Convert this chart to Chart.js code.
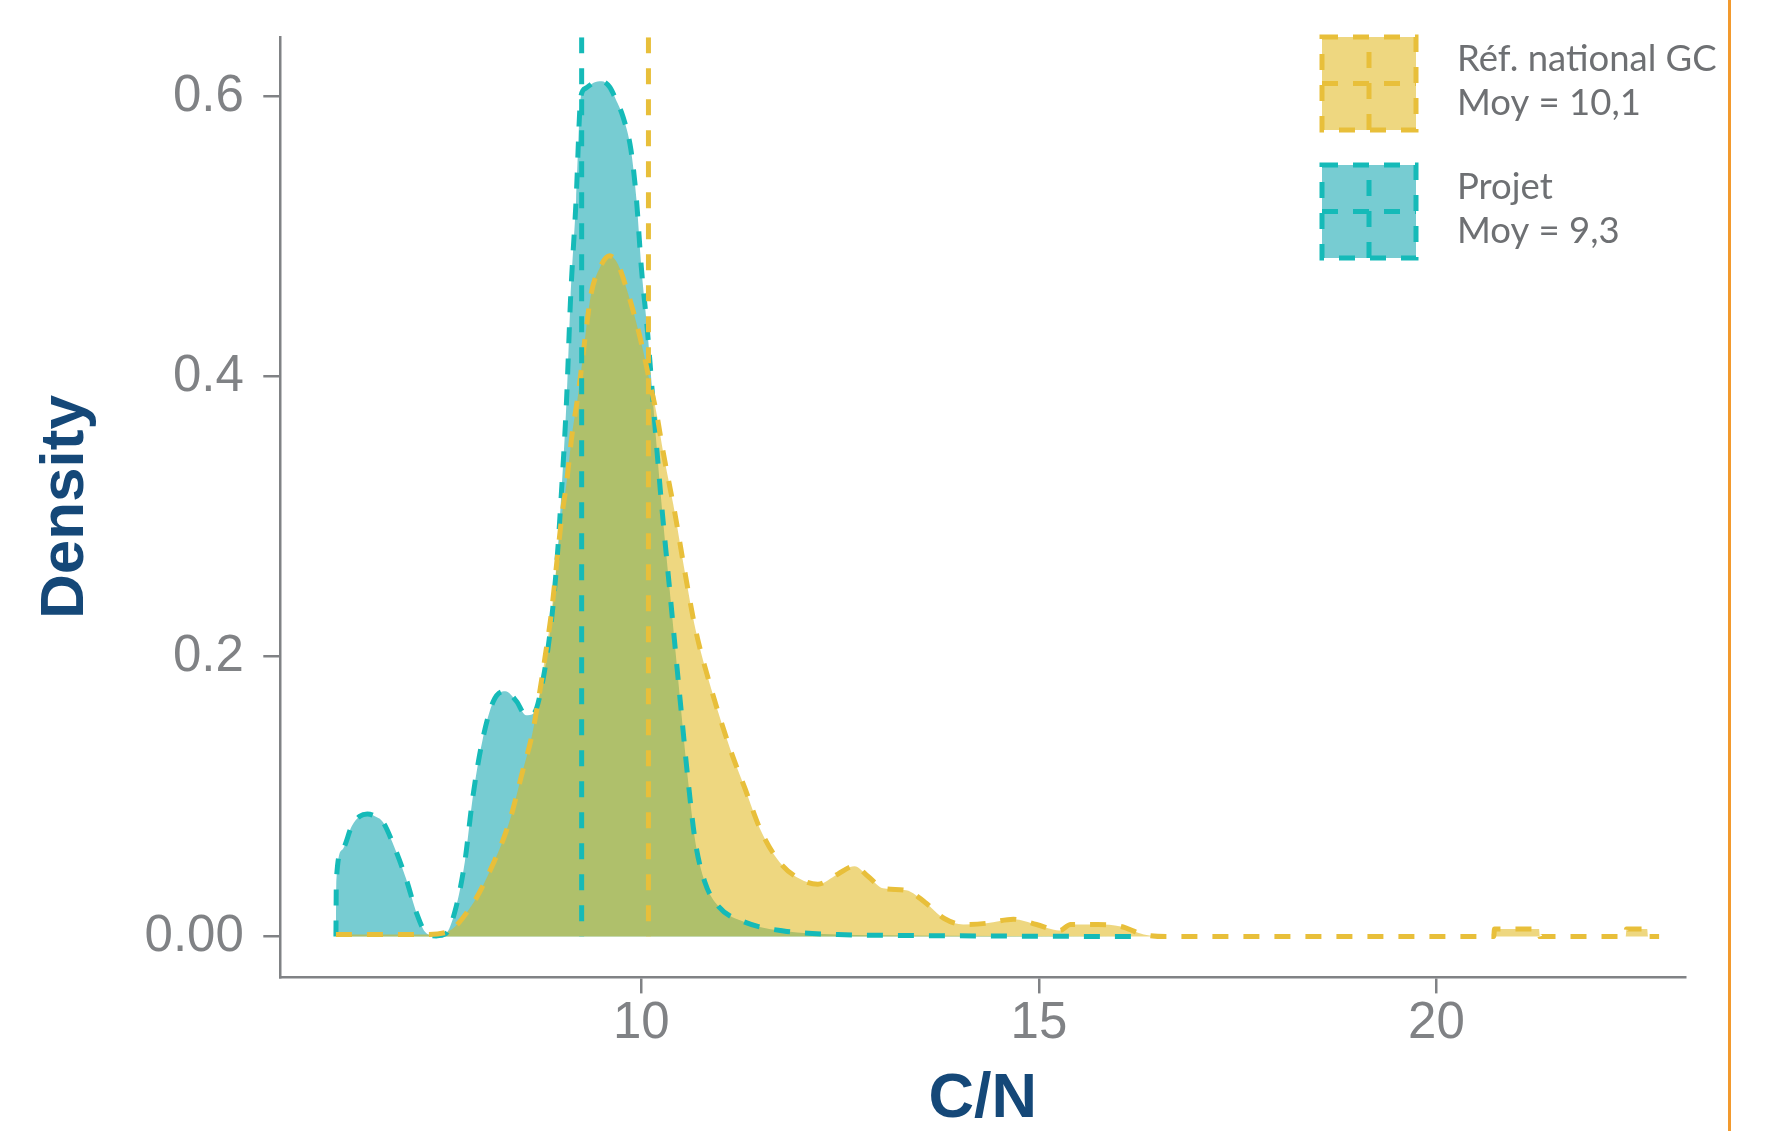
<!DOCTYPE html>
<html><head><meta charset="utf-8">
<script src="https://cdn.jsdelivr.net/npm/chart.js@4.4.1/dist/chart.umd.min.js"></script>
<style>
html,body{margin:0;padding:0;background:#fff;}
#wrap{position:relative;width:1766px;height:1131px;overflow:hidden;background:#fff;}
#c{position:absolute;left:0;top:0;}
#edge{position:absolute;left:1728px;top:0;width:3px;height:1131px;background:#F29A2E;}
</style></head><body>
<div id="wrap"><canvas id="c" width="1766" height="1131"></canvas><div id="edge"></div></div>
<script>
// ---- Data ----
const projetX = [6.160,6.165,6.24,6.36,6.46,6.555,6.65,6.75,6.89,7.04,7.18,7.28,7.42,7.54,7.66,7.78,7.88,8.00,8.14,8.29,8.43,8.55,8.65,8.77,8.87,8.94,8.99,9.06,9.11,9.18,9.24,9.30,9.40,9.50,9.60,9.68,9.77,9.87,9.94,10.00,10.08,10.13,10.18,10.25,10.37,10.49,10.59,10.68,10.80,10.97,11.31,11.79,12.47,13.33,14.50,16.22];
const projetY = [0.000,0.040,0.062,0.079,0.086,0.0876,0.086,0.0819,0.0646,0.0416,0.0158,0.0035,0.0005,0.0020,0.0187,0.0531,0.0991,0.1394,0.1681,0.1753,0.1681,0.1581,0.1596,0.1854,0.2257,0.2687,0.3120,0.3830,0.4550,0.5260,0.6000,0.6060,0.6100,0.6110,0.6070,0.5980,0.5856,0.5619,0.5260,0.4785,0.4310,0.3950,0.3590,0.3120,0.2400,0.1681,0.1106,0.0675,0.0388,0.0216,0.0101,0.0040,0.0015,0.0008,0.0004,0.0000];
const refX = [6.16,7.23,7.54,7.86,8.10,8.34,8.50,8.63,8.72,8.79,8.87,8.94,9.00,9.06,9.13,9.20,9.25,9.30,9.37,9.48,9.60,9.70,9.82,9.94,10.03,10.11,10.20,10.27,10.35,10.42,10.54,10.68,10.88,11.12,11.31,11.50,11.74,11.98,12.22,12.47,12.68,12.85,13.04,13.33,13.57,13.81,14.05,14.34,14.68,14.97,15.26,15.40,15.74,16.03,16.32,16.60,20.72,20.73,21.29,21.30,22.38,22.39,22.65,22.66,22.80];
const refY = [0.0014,0.0014,0.0029,0.0216,0.0474,0.0819,0.1164,0.1451,0.1739,0.1998,0.2314,0.2687,0.3000,0.3240,0.3590,0.3850,0.4070,0.4310,0.4595,0.4780,0.4864,0.4810,0.4619,0.4380,0.4167,0.3952,0.3714,0.3476,0.3238,0.3032,0.2630,0.2199,0.1768,0.1336,0.1049,0.0761,0.0531,0.0416,0.0374,0.0446,0.0503,0.0431,0.0345,0.0331,0.0244,0.0129,0.0086,0.0095,0.0124,0.0086,0.0043,0.0086,0.0086,0.0072,0.0014,0.0000,0.0000,0.0055,0.0055,0.0000,0.0000,0.0055,0.0055,0.0000,0.0000];
const seriesNames = ['Réf. national GC','Projet'];
const meanLabels = ['Moy = 10,1','Moy = 9,3'];
const meanValues = [10.09, 9.25];
const xTicks = [10, 15, 20];
const xTickLabels = ['10','15','20'];
const yTicks = [0, 0.2, 0.4, 0.6];
const yTickLabels = ['0.00','0.2','0.4','0.6'];
const xRange = [5.454, 23.133];
const yRange = [-0.0288, 0.6424];
const yLineTop = 0.6424;

// ---- Styles ----
const REF_LINE = '#E8BF3A', REF_FILL = 'rgba(224,181,20,0.54)';
const PRJ_LINE = '#15BAB8', PRJ_FILL = '#77CCD2';
const AXIS = '#808285', TITLE = '#154878';
const DASH = [16, 15];
const TICK_FONT = {family: '"Liberation Sans", Arial, sans-serif', size: 51};

const pts = (xs, ys) => xs.map((x, i) => ({x, y: ys[i]}));
const vline = (m) => [{x: m, y: yLineTop}, {x: m, y: 0}];

const legendPlugin = {
  id: 'densLegend',
  afterDraw(chart) {
    const ctx = chart.ctx;
    const items = [
      {fill: REF_FILL, line: REF_LINE, top: 37, idx: 0},
      {fill: PRJ_FILL, line: PRJ_LINE, top: 165, idx: 1}
    ];
    const kx = 1322, kw = 94, kh = 93;
    ctx.save();
    items.forEach(it => {
      ctx.fillStyle = '#ffffff';
      ctx.fillRect(kx, it.top, kw, kh);
      ctx.fillStyle = it.fill;
      ctx.fillRect(kx, it.top, kw, kh);
      ctx.strokeStyle = it.line;
      ctx.lineWidth = 5;
      ctx.setLineDash(DASH);
      ctx.strokeRect(kx, it.top, kw, kh);
      ctx.beginPath();
      ctx.moveTo(kx + kw / 2, it.top + kh);
      ctx.lineTo(kx + kw / 2, it.top);
      ctx.moveTo(kx, it.top + kh / 2);
      ctx.lineTo(kx + kw, it.top + kh / 2);
      ctx.stroke();
      ctx.setLineDash([]);
      ctx.fillStyle = '#6E7073';
      ctx.font = '36.5px Lato, "Open Sans", sans-serif';
      ctx.textAlign = 'left';
      ctx.textBaseline = 'alphabetic';
      ctx.fillText(seriesNames[it.idx], 1457, it.top + 34);
      ctx.fillText(meanLabels[it.idx], 1457, it.top + 78);
    });
    ctx.restore();
  }
};

new Chart(document.getElementById('c'), {
  type: 'line',
  data: {
    datasets: [
      {label: 'moy ref', data: vline(meanValues[0]), borderColor: REF_LINE, borderWidth: 5, borderDash: DASH, pointRadius: 0, fill: false},
      {label: 'moy projet', data: vline(meanValues[1]), borderColor: PRJ_LINE, borderWidth: 5, borderDash: DASH, pointRadius: 0, fill: false},
      {label: seriesNames[0], data: pts(refX, refY), borderColor: REF_LINE, backgroundColor: REF_FILL, borderWidth: 5, borderDash: DASH, pointRadius: 0, fill: 'origin', cubicInterpolationMode: 'monotone'},
      {label: seriesNames[1], data: pts(projetX, projetY), borderColor: PRJ_LINE, backgroundColor: PRJ_FILL, borderWidth: 5, borderDash: DASH, pointRadius: 0, fill: 'origin', cubicInterpolationMode: 'monotone'}
    ]
  },
  options: {
    responsive: false,
    devicePixelRatio: 1,
    animation: false,
    layout: {padding: {left: 0, top: 37.3, right: 80.4, bottom: 0}},
    plugins: {
      legend: {display: false},
      tooltip: {enabled: false},
      filler: {drawTime: 'beforeDatasetsDraw'}
    },
    scales: {
      x: {
        type: 'linear', position: 'bottom', min: xRange[0], max: xRange[1],
        afterFit(s) { s.height = 154.1; s.paddingLeft = 0; s.paddingRight = 0; },
        afterBuildTicks(s) { s.ticks = xTicks.map(v => ({value: v})); },
        ticks: {callback: (v, i) => xTickLabels[i], font: TICK_FONT, color: AXIS, padding: 0, maxRotation: 0, autoSkip: false},
        grid: {drawOnChartArea: false, drawTicks: true, tickLength: 16.5, color: AXIS, lineWidth: 2.5},
        border: {display: true, color: AXIS, width: 2.5},
        title: {display: true, text: 'C/N', color: TITLE, font: {family: '"Liberation Sans", Arial, sans-serif', size: 63, weight: 'bold', lineHeight: 1}, padding: {top: 0, bottom: 0}}
      },
      y: {
        type: 'linear', min: yRange[0], max: yRange[1],
        afterFit(s) { s.width = 279.8; s.paddingTop = 0; s.paddingBottom = 0; },
        afterBuildTicks(s) { s.ticks = yTicks.map(v => ({value: v})); },
        ticks: {callback: (v, i) => yTickLabels[i], font: TICK_FONT, color: AXIS, padding: 19.5, autoSkip: false},
        grid: {drawOnChartArea: false, drawTicks: true, tickLength: 16.5, color: AXIS, lineWidth: 2.5},
        border: {display: true, color: AXIS, width: 2.5},
        title: {display: true, text: 'Density', color: TITLE, font: {family: '"Liberation Sans", Arial, sans-serif', size: 62, weight: 'bold', lineHeight: 1}, padding: {top: 35, bottom: 0}}
      }
    }
  },
  plugins: [legendPlugin]
});
</script>
</body></html>
